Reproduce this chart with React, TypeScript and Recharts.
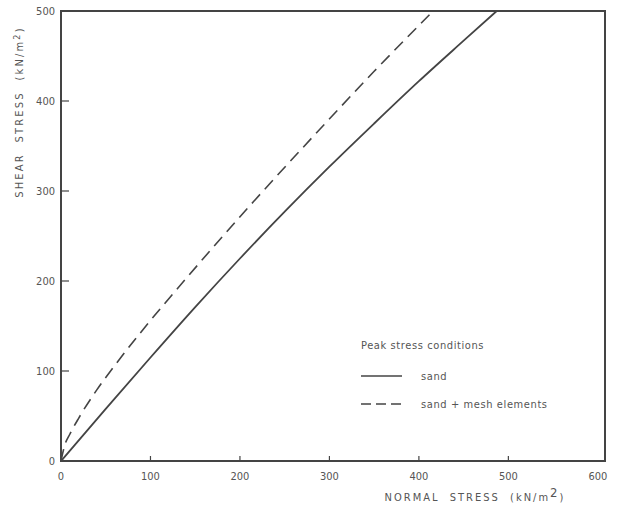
import React from 'react';
import { LineChart, Line, XAxis, YAxis, ReferenceArea } from 'recharts';

const FONT = '"DejaVu Sans Condensed", "DejaVu Sans", sans-serif';
const INK = '#444';
const TEXT = '#555';

const xTicks = [0, 100, 200, 300, 400, 500, 600];
const yTicks = [0, 100, 200, 300, 400, 500];

// peak stress, sand
const sand = [
  { x: 0, y: 0 },
  { x: 50, y: 58 },
  { x: 100, y: 115 },
  { x: 150, y: 171 },
  { x: 200, y: 225 },
  { x: 250, y: 277 },
  { x: 300, y: 327 },
  { x: 350, y: 375 },
  { x: 400, y: 422 },
  { x: 450, y: 467 },
  { x: 487, y: 500 },
];

// peak stress, sand + mesh elements
const sandMesh = [
  { x: 0, y: 0 },
  { x: 4, y: 17 },
  { x: 10, y: 30 },
  { x: 20, y: 48 },
  { x: 40, y: 79 },
  { x: 60, y: 106 },
  { x: 90, y: 144 },
  { x: 140, y: 203 },
  { x: 215, y: 288 },
  { x: 285, y: 364 },
  { x: 350, y: 433 },
  { x: 416, y: 500 },
];

const XTick = (props: any) => {
  const { x, y, payload } = props;
  const v = payload.value;
  const inner = v > 0 && v < 600;
  return (
    <g>
      {inner && <line x1={x} y1={y - 6} x2={x} y2={y - 11} stroke={INK} strokeWidth={1.2} />}
      <text x={x} y={y + 13} textAnchor="middle" fontSize={11} fontFamily={FONT} fill={TEXT}>
        {v}
      </text>
    </g>
  );
};

const YTick = (props: any) => {
  const { x, y, payload } = props;
  const v = payload.value;
  const inner = v > 0 && v < 500;
  return (
    <g>
      {inner && <line x1={x + 6} y1={y} x2={x + 14} y2={y} stroke={INK} strokeWidth={1.2} />}
      <text x={x} y={y + 4} textAnchor="end" fontSize={11} fontFamily={FONT} fill={TEXT}>
        {v}
      </text>
    </g>
  );
};

const legendText = { fontSize: 11, fontFamily: FONT, fill: TEXT, letterSpacing: 0.6 };

export default function App() {
  return (
    <div style={{ position: 'absolute', left: 0, top: 0, width: 620, height: 509, background: '#fff' }}>
      <LineChart width={620} height={509} margin={{ top: 11, right: 15, bottom: 18, left: 0 }}>
        <XAxis
          type="number"
          dataKey="x"
          domain={[0, 608]}
          ticks={xTicks}
          height={30}
          tickSize={0}
          tickMargin={6}
          tickLine={false}
          tick={<XTick />}
          axisLine={{ stroke: INK, strokeWidth: 2 }}
          allowDuplicatedCategory={false}
        />
        <YAxis
          type="number"
          dataKey="y"
          domain={[0, 500]}
          ticks={yTicks}
          width={61}
          tickSize={0}
          tickMargin={6}
          tickLine={false}
          tick={<YTick />}
          axisLine={{ stroke: INK, strokeWidth: 2 }}
        />
        <ReferenceArea x1={0} x2={608} y1={0} y2={500} fill="none" stroke={INK} strokeWidth={2} />
        <Line
          data={sand}
          dataKey="y"
          type="monotone"
          stroke={INK}
          strokeWidth={1.8}
          dot={false}
          isAnimationActive={false}
        />
        <Line
          data={sandMesh}
          dataKey="y"
          type="monotone"
          stroke={INK}
          strokeWidth={1.6}
          strokeDasharray="12 7"
          dot={false}
          isAnimationActive={false}
        />
        {/* legend */}
        <text x={361} y={349} {...legendText}>Peak stress conditions</text>
        <line x1={361} y1={376} x2={402} y2={376} stroke={INK} strokeWidth={1.6} />
        <text x={421} y={380} {...legendText}>sand</text>
        <line x1={361} y1={404} x2={402} y2={404} stroke={INK} strokeWidth={1.6} strokeDasharray="10 5" />
        <text x={421} y={408} {...legendText}>sand + mesh elements</text>
        {/* axis titles */}
        <text
          x={475}
          y={501}
          textAnchor="middle"
          fontSize={11}
          fontFamily={FONT}
          fill={TEXT}
          letterSpacing={2}
          style={{ whiteSpace: 'pre' }}
        >
          {'NORMAL  STRESS  (kN/m'}
          <tspan fontSize={13} dy={-4}>2</tspan>
          <tspan dy={4}>)</tspan>
        </text>
        <text
          x={23}
          y={112}
          transform="rotate(-90 23 112)"
          textAnchor="middle"
          fontSize={11}
          fontFamily={FONT}
          fill={TEXT}
          letterSpacing={2.2}
          style={{ whiteSpace: 'pre' }}
        >
          {'SHEAR  STRESS  (kN/m'}
          <tspan fontSize={9} dy={-3}>2</tspan>
          <tspan dy={3}>)</tspan>
        </text>
      </LineChart>
    </div>
  );
}
